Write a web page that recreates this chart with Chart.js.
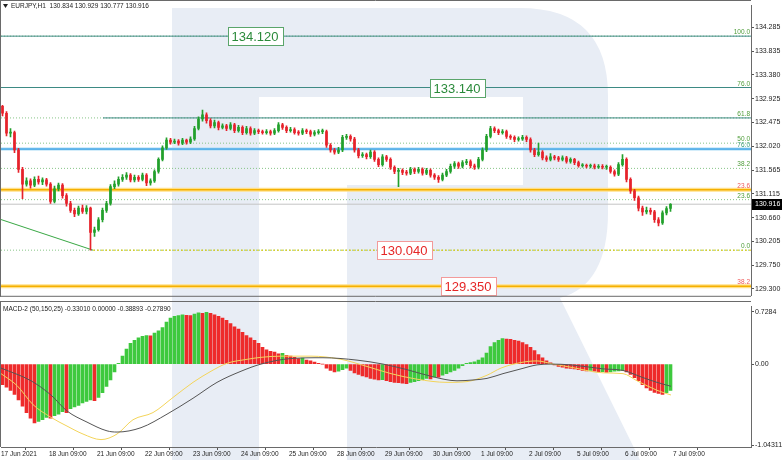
<!DOCTYPE html>
<html>
<head>
<meta charset="utf-8">
<script src="https://cdn.jsdelivr.net/npm/chart.js@4.4.1/dist/chart.umd.min.js"></script>
<style>
  html, body { margin: 0; padding: 0; background: #fff; }
  #wrap { position: relative; width: 782px; height: 460px; overflow: hidden; }
  #main { position: absolute; left: 0; top: 0; }
  #macd { position: absolute; left: 0; top: 301px; }
</style>
</head>
<body>
<div id="wrap">
  <canvas id="main" width="782" height="301"></canvas>
  <canvas id="macd" width="782" height="159"></canvas>
</div>
<script>
// ---- data (2-hour candles, EURJPY) ----
const dayLabels = ['17 Jun 2021', '18 Jun 09:00', '21 Jun 09:00', '22 Jun 09:00', '23 Jun 09:00',
  '24 Jun 09:00', '25 Jun 09:00', '28 Jun 09:00', '29 Jun 09:00', '30 Jun 09:00',
  '1 Jul 09:00', '2 Jul 09:00', '5 Jul 09:00', '6 Jul 09:00', '7 Jul 09:00'];

const opens = [132.78,132.65,132.27,132.28,131.95,131.58,131.30,131.36,131.28,131.39,
  131.34,131.38,131.30,130.97,131.21,131.28,131.08,130.93,130.80,130.73,
  130.84,130.78,130.84,130.38,130.43,130.62,130.80,130.93,131.25,131.30,
  131.39,131.43,131.47,131.38,131.43,131.39,131.47,131.32,131.36,131.54,
  131.77,131.99,132.14,132.10,132.12,132.08,132.14,132.10,132.16,132.36,
  132.54,132.62,132.51,132.41,132.47,132.38,132.41,132.36,132.43,132.32,
  132.38,132.28,132.36,132.27,132.32,132.30,132.28,132.30,132.27,132.32,
  132.43,132.38,132.32,132.34,132.28,132.27,132.32,132.30,132.25,132.28,
  132.30,132.30,132.04,131.95,131.91,131.95,132.19,132.21,132.16,131.95,
  131.84,131.86,131.82,131.91,131.77,131.67,131.82,131.77,131.62,131.54,
  131.56,131.52,131.51,131.58,131.54,131.58,131.51,131.56,131.47,131.43,
  131.39,131.47,131.54,131.64,131.69,131.64,131.71,131.73,131.65,131.62,
  131.77,131.95,132.21,132.36,132.32,132.28,132.30,132.21,132.19,132.15,
  132.16,132.19,132.15,131.95,131.86,131.91,131.80,131.77,131.82,131.80,
  131.77,131.80,131.73,131.77,131.71,131.65,131.65,131.64,131.65,131.62,
  131.64,131.62,131.62,131.54,131.49,131.67,131.77,131.39,131.17,131.04,
  130.84,130.77,130.80,130.77,130.62,130.56,130.75,130.834];

const highs = [132.80,132.68,132.36,132.31,131.98,131.62,131.42,131.40,131.44,131.45,
  131.42,131.41,131.33,131.26,131.32,131.31,131.12,130.97,130.84,130.88,
  130.90,130.89,130.86,130.48,130.66,130.84,130.97,131.29,131.36,131.44,
  131.48,131.52,131.50,131.47,131.46,131.51,131.50,131.40,131.57,131.80,
  132.03,132.18,132.17,132.16,132.15,132.17,132.16,132.20,132.40,132.58,
  132.71,132.66,132.55,132.52,132.50,132.45,132.44,132.47,132.46,132.42,
  132.41,132.40,132.39,132.36,132.35,132.33,132.34,132.33,132.36,132.47,
  132.46,132.41,132.38,132.37,132.32,132.36,132.35,132.33,132.32,132.34,
  132.35,132.33,132.07,131.98,132.00,132.23,132.25,132.24,132.19,131.98,
  131.90,131.89,131.95,131.94,131.80,131.86,131.85,131.80,131.65,131.60,
  131.59,131.56,131.62,131.61,131.62,131.61,131.60,131.59,131.50,131.46,
  131.51,131.58,131.68,131.73,131.72,131.75,131.77,131.76,131.68,131.81,
  131.99,132.25,132.40,132.39,132.35,132.34,132.33,132.24,132.22,132.20,
  132.23,132.22,132.18,131.98,132.08,131.94,131.84,131.88,131.85,131.83,
  131.84,131.83,131.80,131.79,131.74,131.69,131.68,131.68,131.68,131.67,
  131.67,131.66,131.65,131.57,131.71,131.86,131.80,131.42,131.20,131.07,
  130.88,130.86,130.84,130.80,130.66,130.79,130.87,130.929];

const lows = [132.60,132.22,132.20,131.90,131.52,131.02,131.26,131.22,131.25,131.30,
  131.29,131.26,130.93,130.94,131.17,131.03,130.88,130.76,130.68,130.70,
  130.74,130.73,130.04,130.30,130.40,130.58,130.76,130.90,131.21,131.26,
  131.35,131.39,131.34,131.34,131.35,131.36,131.27,131.28,131.33,131.51,
  131.74,131.96,132.06,132.07,132.04,132.05,132.06,132.07,132.13,132.33,
  132.50,132.46,132.37,132.37,132.33,132.35,132.32,132.33,132.28,132.29,
  132.24,132.25,132.23,132.24,132.26,132.25,132.25,132.23,132.24,132.29,
  132.34,132.28,132.29,132.25,132.23,132.24,132.26,132.21,132.22,132.25,
  132.26,132.00,131.91,131.87,131.88,131.92,132.15,132.12,131.91,131.80,
  131.81,131.78,131.79,131.73,131.63,131.64,131.73,131.58,131.50,131.25,
  131.48,131.47,131.48,131.50,131.51,131.47,131.48,131.43,131.39,131.33,
  131.36,131.44,131.51,131.60,131.60,131.61,131.67,131.61,131.58,131.59,
  131.74,131.92,132.18,132.28,132.24,132.25,132.17,132.15,132.11,132.12,
  132.13,132.11,131.91,131.82,131.83,131.76,131.73,131.74,131.76,131.73,
  131.74,131.70,131.70,131.67,131.62,131.62,131.61,131.61,131.59,131.60,
  131.59,131.58,131.51,131.45,131.46,131.64,131.34,131.12,130.99,130.79,
  130.70,130.73,130.72,130.57,130.50,130.53,130.71,130.777];

const closes = [132.65,132.27,132.28,131.95,131.58,131.30,131.36,131.28,131.39,131.34,
  131.38,131.30,130.97,131.21,131.28,131.08,130.93,130.80,130.73,130.84,
  130.78,130.84,130.38,130.43,130.62,130.80,130.93,131.25,131.30,131.39,
  131.43,131.47,131.38,131.43,131.39,131.47,131.32,131.36,131.54,131.77,
  131.99,132.14,132.10,132.12,132.08,132.14,132.10,132.16,132.36,132.54,
  132.62,132.51,132.41,132.47,132.38,132.41,132.36,132.43,132.32,132.38,
  132.28,132.36,132.27,132.32,132.30,132.28,132.30,132.27,132.32,132.43,
  132.38,132.32,132.34,132.28,132.27,132.32,132.30,132.25,132.28,132.30,
  132.30,132.04,131.95,131.91,131.95,132.19,132.21,132.16,131.95,131.84,
  131.86,131.82,131.91,131.77,131.67,131.82,131.77,131.62,131.54,131.56,
  131.52,131.51,131.58,131.54,131.58,131.51,131.56,131.47,131.43,131.39,
  131.47,131.54,131.64,131.69,131.64,131.71,131.73,131.65,131.62,131.77,
  131.95,132.21,132.36,132.32,132.28,132.30,132.21,132.19,132.15,132.16,
  132.19,132.15,131.95,131.86,131.91,131.80,131.77,131.82,131.80,131.77,
  131.80,131.73,131.77,131.71,131.65,131.65,131.64,131.65,131.62,131.64,
  131.62,131.62,131.54,131.49,131.67,131.77,131.39,131.17,131.04,130.84,
  130.77,130.80,130.77,130.62,130.56,130.75,130.834,130.916];

const macdHist = [-0.26,-0.29,-0.33,-0.38,-0.45,-0.53,-0.61,-0.68,-0.74,-0.72,
  -0.70,-0.67,-0.68,-0.65,-0.63,-0.60,-0.61,-0.56,-0.54,-0.52,
  -0.49,-0.47,-0.45,-0.46,-0.42,-0.36,-0.28,-0.20,-0.10,0.01,
  0.10,0.19,0.26,0.30,0.33,0.35,0.36,0.355,0.39,0.42,
  0.46,0.53,0.58,0.60,0.61,0.62,0.615,0.61,0.63,0.645,
  0.64,0.65,0.64,0.62,0.60,0.58,0.55,0.51,0.47,0.44,
  0.40,0.36,0.33,0.30,0.26,0.21,0.18,0.16,0.15,0.13,
  0.135,0.11,0.10,0.085,0.07,0.075,0.05,0.04,0.025,0.01,
  0.00,-0.05,-0.08,-0.10,-0.09,-0.07,-0.05,-0.08,-0.11,-0.13,
  -0.15,-0.16,-0.18,-0.19,-0.20,-0.195,-0.21,-0.22,-0.23,-0.235,
  -0.24,-0.245,-0.23,-0.22,-0.21,-0.195,-0.18,-0.185,-0.16,-0.165,
  -0.14,-0.12,-0.10,-0.08,-0.05,-0.02,0.01,0.02,0.03,0.05,
  0.08,0.14,0.22,0.27,0.30,0.32,0.315,0.31,0.30,0.29,
  0.27,0.245,0.21,0.17,0.12,0.08,0.04,0.015,-0.01,-0.03,
  -0.04,-0.05,-0.055,-0.06,-0.07,-0.08,-0.085,-0.08,-0.09,-0.10,
  -0.095,-0.105,-0.10,-0.09,-0.085,-0.08,-0.10,-0.13,-0.17,-0.21,
  -0.26,-0.30,-0.33,-0.355,-0.37,-0.38,-0.36,-0.33];

// MACD lines, read at a few hours (hour 0 = 17 Jun 09:00)
const blackHours = [0,15,25,33,43,53,58,70,83,96,108,120,130,145,161,178,191,203,216,228,
  236,243,251,260,268,275,285,301,311,321,328,335];
const blackValues = [-0.05,-0.21,-0.39,-0.59,-0.73,-0.84,-0.855,-0.80,-0.63,-0.43,-0.23,-0.09,0.00,0.07,0.08,0.05,0.00,-0.07,-0.16,-0.21,
  -0.20,-0.18,-0.12,-0.06,-0.01,0.00,-0.01,-0.06,-0.08,-0.17,-0.23,-0.279];
const yellowHours = [0,8,16,25,33,41,50,58,66,76,86,96,105,113,123,130,140,155,170,183,
  195,208,223,233,243,250,260,268,276,285,301,311,318,328,335];
const yellowValues = [-0.12,-0.27,-0.51,-0.67,-0.78,-0.88,-0.95,-0.88,-0.70,-0.61,-0.42,-0.23,-0.09,0.01,0.06,0.085,0.10,0.10,0.06,-0.03,
  -0.12,-0.19,-0.23,-0.22,-0.14,-0.05,0.02,0.04,0.00,-0.04,-0.11,-0.12,-0.21,-0.33,-0.389];

const priceTicks = [134.285, 133.835, 133.380, 132.925, 132.475, 132.020, 131.565, 131.115, 130.660, 130.205, 129.750, 129.300];
const macdTickLabels = ['0.7284', '0.00', '-1.04311'];

const fibValues = [134.12, 133.141, 132.561, 132.08, 131.599, 131.003, 130.04];
const fibText = ['100.0', '76.0', '61.8', '50.0', '38.2', '23.6', '0.0'];
const redFibValues = [131.19, 129.35];
const redFibText = ['23.6', '38.2'];
const blueLevel = 131.968;
const blueText = '76.0';
const lastPrice = 130.916;
const trendHours = [-0.5, 46];
const trendValues = [130.63, 130.04];
const boxValues = [134.12, 133.14, 130.04, 129.35];
const boxText = ['134.120', '133.140', '130.040', '129.350'];

const header = 'EURJPY,H1  130.834 130.929 130.777 130.916';
const macdHeader = 'MACD-2 (50,150,25) -0.33010 0.00000 -0.38893 -0.27890';

// ---- drawing ----
const FONT = "'Liberation Sans', Arial, sans-serif";
Chart.defaults.font.family = FONT;
const UP = '#22a02c', DOWN = '#e6222b';
const H_MIN = 0, H_MAX = 375;

function hLine(v, color, width, dash, from, to, order) {
  return {
    type: 'line', data: [{x: from, y: v}, {x: to, y: v}],
    borderColor: color, borderWidth: width, borderDash: dash || [],
    pointRadius: 0, fill: false, order: order || 10
  };
}

function drawWatermark(ctx, dy) {
  ctx.save();
  ctx.translate(0, -dy);
  ctx.fillStyle = '#e8edf5';
  ctx.fillRect(172, 8, 87, 452);
  ctx.beginPath();
  ctx.moveTo(259, 8);
  ctx.lineTo(520, 8);
  ctx.quadraticCurveTo(608, 8, 608, 96);
  ctx.lineTo(608, 212);
  ctx.quadraticCurveTo(608, 285, 560, 298);
  ctx.lineTo(640, 460);
  ctx.lineTo(347, 460);
  ctx.lineTo(347, 185);
  ctx.lineTo(523, 185);
  ctx.lineTo(523, 97);
  ctx.lineTo(259, 97);
  ctx.closePath();
  ctx.fill();
  ctx.restore();
}

const candleX = closes.map((c, i) => 2 * i + 0.75);
const candleColors = closes.map((c, i) => c >= opens[i] ? UP : DOWN);

const mainOverlay = {
  id: 'mainOverlay',
  beforeDraw(chart) {
    const ctx = chart.ctx;
    ctx.save();
    ctx.fillStyle = '#fff';
    ctx.fillRect(0, 0, chart.width, chart.height);
    ctx.restore();
    drawWatermark(ctx, 0);
  },
  afterDraw(chart) {
    const ctx = chart.ctx, y = chart.scales.y, x = chart.scales.x, area = chart.chartArea;
    ctx.save();
    // small level captions
    ctx.font = '6.5px ' + FONT;
    ctx.textAlign = 'right';
    ctx.textBaseline = 'bottom';
    const small = (v, t, c) => { ctx.fillStyle = c; ctx.fillText(t, area.right - 1, y.getPixelForValue(v) - 0.5); };
    fibValues.forEach((v, i) => small(v, fibText[i], '#4f9d3a'));
    small(blueLevel, blueText, '#3a9a78');
    redFibValues.forEach((v, i) => small(v, redFibText[i], '#ee5a5a'));

    // boxed price labels
    const boxHours = [127, 228, 201.5, 233.5];
    const boxColors = ['#2a8a3a', '#2a8a3a', '#e52626', '#e52626'];
    const boxBorders = ['#5aa56a', '#5aa56a', '#f39a9a', '#f39a9a'];
    ctx.font = '13px ' + FONT;
    ctx.textAlign = 'center';
    ctx.textBaseline = 'middle';
    boxValues.forEach((v, i) => {
      const cx = x.getPixelForValue(boxHours[i]);
      const cy = Math.round(y.getPixelForValue(v));
      const w = Math.round(ctx.measureText(boxText[i]).width) + 8;
      ctx.fillStyle = '#fff';
      ctx.fillRect(Math.round(cx - w / 2) + 0.5, cy - 8.5, w, 18);
      ctx.strokeStyle = boxBorders[i];
      ctx.lineWidth = 1;
      ctx.strokeRect(Math.round(cx - w / 2) + 0.5, cy - 8.5, w, 18);
      ctx.fillStyle = boxColors[i];
      ctx.fillText(boxText[i], cx, cy + 1);
    });

    // last price box on the axis
    const py = Math.round(y.getPixelForValue(lastPrice));
    ctx.fillStyle = '#000';
    ctx.fillRect(area.right + 1, py - 5, chart.width - area.right - 1, 11);
    ctx.fillStyle = '#fff';
    ctx.font = '7px ' + FONT;
    ctx.textAlign = 'left';
    ctx.textBaseline = 'middle';
    ctx.fillText(lastPrice.toFixed(3), area.right + 4, py + 0.5);

    // header
    ctx.fillStyle = '#222';
    ctx.beginPath();
    ctx.moveTo(3, 4); ctx.lineTo(8, 4); ctx.lineTo(5.5, 8); ctx.closePath();
    ctx.fill();
    ctx.font = '6.5px ' + FONT;
    ctx.fillText(header, 11, 6.5);

    // frame
    ctx.strokeStyle = '#6a6a6a';
    ctx.beginPath();
    ctx.moveTo(0.5, 0); ctx.lineTo(0.5, area.bottom + 1);
    ctx.moveTo(0, 0.5); ctx.lineTo(area.right, 0.5);
    ctx.moveTo(0, area.bottom + 0.5); ctx.lineTo(area.right, area.bottom + 0.5);
    ctx.stroke();
    ctx.restore();
  }
};

const macdOverlay = {
  id: 'macdOverlay',
  beforeDraw(chart) {
    const ctx = chart.ctx;
    ctx.save();
    ctx.fillStyle = '#fff';
    ctx.fillRect(0, 0, chart.width, chart.height);
    ctx.restore();
    drawWatermark(ctx, 301);
  },
  afterDraw(chart) {
    const ctx = chart.ctx, area = chart.chartArea;
    ctx.save();
    ctx.fillStyle = '#222';
    ctx.font = '6.5px ' + FONT;
    ctx.textBaseline = 'middle';
    ctx.fillText(macdHeader, 3, 8);
    ctx.strokeStyle = '#6a6a6a';
    ctx.beginPath();
    ctx.moveTo(0.5, 0); ctx.lineTo(0.5, area.bottom);
    ctx.moveTo(0, 0.5); ctx.lineTo(area.right, 0.5);
    ctx.stroke();
    ctx.restore();
  }
};

const axisY = {
  position: 'right',
  afterFit: s => { s.width = 31; },
  grid: { drawOnChartArea: false, drawTicks: true, tickLength: 3, tickColor: '#555' },
  border: { display: true, color: '#6a6a6a' },
  ticks: { padding: 1, color: '#222', font: { size: 7 } }
};

new Chart(document.getElementById('main'), {
  type: 'bar',
  data: {
    datasets: [
      {
        data: closes.map((c, i) => ({x: candleX[i], y: [opens[i], c]})),
        backgroundColor: candleColors, barThickness: 2, minBarLength: 1, grouped: false, order: 1
      },
      {
        data: closes.map((c, i) => ({x: candleX[i], y: [lows[i], highs[i]]})),
        backgroundColor: candleColors, barThickness: 1, grouped: false, order: 2
      },
      ...fibValues.map(v => hLine(v, '#86c486', 1, [1, 2], H_MIN, H_MAX, 20)),
      ...fibValues.slice(0, 2).map(v => hLine(v, '#3d8a84', 1, [], H_MIN, H_MAX, 19)),
      hLine(fibValues[2], '#3d8a84', 1, [], 51, H_MAX, 19),
      hLine(fibValues[6], '#d8c800', 1, [2, 2], 46, H_MAX, 19),
      hLine(blueLevel, '#a9dcf5', 3, [], H_MIN, H_MAX, 18),
      hLine(blueLevel, '#1a8fe0', 1, [], H_MIN, H_MAX, 17),
      ...redFibValues.map(v => hLine(v, '#ffe08a', 4, [], H_MIN, H_MAX, 18)),
      ...redFibValues.map(v => hLine(v, '#f5b000', 1.5, [], H_MIN, H_MAX, 17)),
      hLine(lastPrice, '#c4c4c4', 1, [], H_MIN, H_MAX, 16),
      {
        type: 'line', data: trendHours.map((h, i) => ({x: h, y: trendValues[i]})),
        borderColor: '#3aa845', borderWidth: 1, pointRadius: 0, fill: false, order: 15
      }
    ]
  },
  plugins: [mainOverlay],
  options: {
    responsive: false, animation: false, events: [],
    layout: { padding: { left: 1, top: 1, right: 0, bottom: 1 } },
    plugins: { legend: { display: false }, tooltip: { enabled: false } },
    scales: {
      x: { type: 'linear', min: H_MIN, max: H_MAX, offset: false, display: false },
      y: Object.assign({}, axisY, {
        min: 129.17, max: 134.71,
        afterBuildTicks: s => { s.ticks = priceTicks.map(v => ({value: v})); },
        ticks: Object.assign({}, axisY.ticks, { callback: v => v.toFixed(3) })
      })
    }
  }
});

new Chart(document.getElementById('macd'), {
  type: 'bar',
  data: {
    datasets: [
      {
        type: 'line', data: blackHours.map((h, i) => ({x: h, y: blackValues[i]})),
        borderColor: '#555', borderWidth: 1, pointRadius: 0, cubicInterpolationMode: 'monotone', fill: false, order: 0
      },
      {
        type: 'line', data: yellowHours.map((h, i) => ({x: h, y: yellowValues[i]})),
        borderColor: '#f3d45a', borderWidth: 1, pointRadius: 0, cubicInterpolationMode: 'monotone', fill: false, order: 1
      },
      {
        data: macdHist.map((v, i) => ({x: 2 * i + 0.75, y: v})),
        backgroundColor: macdHist.map((v, i) => (i === 0 || v < macdHist[i - 1]) ? '#ee2b2b' : '#3ec93e'),
        barThickness: 3, grouped: false, order: 2
      }
    ]
  },
  plugins: [macdOverlay],
  options: {
    responsive: false, animation: false, events: [],
    layout: { padding: { left: 1, top: 1, right: 0, bottom: 0 } },
    plugins: { legend: { display: false }, tooltip: { enabled: false } },
    scales: {
      x: {
        type: 'linear', min: H_MIN, max: H_MAX, offset: false,
        afterFit: s => { s.height = 13; },
        afterBuildTicks: s => { s.ticks = dayLabels.map((l, i) => ({value: i * 24})); },
        grid: { drawOnChartArea: false, drawTicks: true, tickLength: 3, tickColor: '#555' },
        border: { display: true, color: '#6a6a6a' },
        ticks: {
          autoSkip: false, maxRotation: 0, minRotation: 0, align: 'start', padding: 0,
          color: '#222', font: { size: 6.5 }, callback: (v, i) => dayLabels[i]
        }
      },
      y: Object.assign({}, axisY, {
        min: -1.04311, max: 0.7284,
        afterBuildTicks: s => {
          const px = (s.max - s.min) / 146;
          s.ticks = [{value: s.max - 6 * px}, {value: 0}, {value: s.min + 2 * px}];
        },
        ticks: Object.assign({}, axisY.ticks, { callback: (v, i) => macdTickLabels[i] })
      })
    }
  }
});
</script>
</body>
</html>
